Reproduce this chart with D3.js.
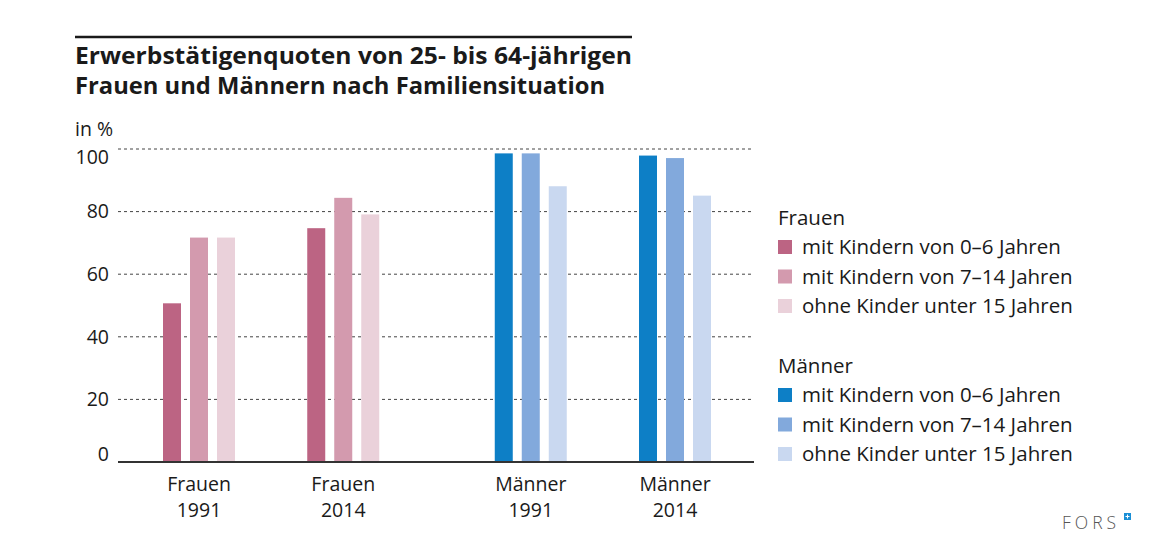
<!DOCTYPE html>
<html><head><meta charset="utf-8">
<script src="https://cdn.jsdelivr.net/npm/d3@7"></script>
<style>
body{margin:0;background:#fff;}
svg{font-family:"Open Sans","Noto Sans",sans-serif;}
</style></head>
<body><svg id="c" width="1150" height="553"></svg>
<script>
const groups = ["Frauen 1991","Frauen 2014","Männer 1991","Männer 2014"];
const groupGender = ["Frauen","Frauen","Männer","Männer"];
const groupYear = ["1991","2014","1991","2014"];
const seriesNames = ["mit Kindern von 0–6 Jahren","mit Kindern von 7–14 Jahren","ohne Kinder unter 15 Jahren"];
const values = [
  [50.7, 71.7, 71.7],
  [74.7, 84.4, 79.1],
  [98.6, 98.6, 88.1],
  [97.9, 97.1, 85.1]
];
const yTicks = [0,20,40,60,80,100];
const colorsFrauen = ["#bc6483","#d39aae","#ead1da"];
const colorsMaenner = ["#0d7fc6","#82a9dc","#c9d8f0"];
const titleLines = ["Erwerbstätigenquoten von 25- bis 64-jährigen","Frauen und Männern nach Familiensituation"];
const unitLabel = "in %";

const svg = d3.select("#c");
const plotL = 118, plotR = 754, plotT = 149, plotB = 462;
const y = d3.scaleLinear().domain([0,100]).range([plotB, plotT]);

const gx = d3.scaleLinear().domain([0,3.3]).range([199, 675]);
const gpos = groups.map((g,i)=> i + (groupGender[i]==="Männer" ? 0.3 : 0));
const inner = d3.scaleBand().domain(d3.range(seriesNames.length)).range([-36,36]).paddingInner(1/3);

// title
svg.append("line").attr("x1",75).attr("x2",632).attr("y1",37).attr("y2",37)
  .attr("stroke","#1a1a1a").attr("stroke-width",2.5);
const titleWidths = [557, 530];
svg.selectAll("text.title").data(titleLines).join("text").attr("class","title")
  .attr("x",75).attr("y",(d,i)=>64+i*29.5).attr("font-size",22.5).attr("font-weight","bold")
  .attr("textLength",(d,i)=>titleWidths[i]).attr("lengthAdjust","spacingAndGlyphs")
  .attr("fill","#1a1a1a").text(d=>d);
svg.append("text").attr("x",75).attr("y",136).attr("font-size",19.5).attr("fill","#1a1a1a").text(unitLabel);

// grid
svg.append("g").selectAll("line").data(yTicks.filter(d=>d>0)).join("line")
  .attr("x1",plotL).attr("x2",plotR).attr("y1",d=>y(d)).attr("y2",d=>y(d))
  .attr("stroke","#444").attr("stroke-width",1).attr("stroke-dasharray","3,3");

// tick labels
svg.append("g").selectAll("text").data(yTicks).join("text")
  .attr("x",109).attr("y",d=>Math.max(plotT+8, Math.min(plotB-8, y(d))))
  .attr("dy","0.35em").attr("text-anchor","end").attr("font-size",19.5).attr("fill","#1a1a1a")
  .text(d=>d);

// bars
groups.forEach((g,i)=>{
  const cols = groupGender[i]==="Frauen" ? colorsFrauen : colorsMaenner;
  svg.append("g").selectAll("rect").data(values[i]).join("rect")
    .attr("x",(d,j)=>gx(gpos[i]) + inner(j))
    .attr("width",inner.bandwidth())
    .attr("y",d=>y(d)).attr("height",d=>plotB-y(d))
    .attr("fill",(d,j)=>cols[j]);
  const t = svg.append("text").attr("x",gx(gpos[i])).attr("text-anchor","middle")
    .attr("font-size",19.5).attr("fill","#1a1a1a");
  t.append("tspan").attr("x",gx(gpos[i])).attr("y",491).text(groupGender[i]);
  t.append("tspan").attr("x",gx(gpos[i])).attr("y",517).text(groupYear[i]);
});

// baseline
svg.append("line").attr("x1",plotL).attr("x2",plotR).attr("y1",plotB).attr("y2",plotB)
  .attr("stroke","#333").attr("stroke-width",2);

// legend
const legendBlocks = [["Frauen",colorsFrauen,218],["Männer",colorsMaenner,366]];
legendBlocks.forEach(([name,cols,y0])=>{
  const g = svg.append("g");
  g.append("text").attr("x",778).attr("y",y0).attr("dy","0.35em").attr("font-size",20.5).attr("fill","#1a1a1a").text(name);
  seriesNames.forEach((s,j)=>{
    const cy = y0 + 29 + j*29.5;
    g.append("rect").attr("x",778).attr("y",cy-7).attr("width",14).attr("height",14).attr("fill",cols[j]);
    g.append("text").attr("x",802).attr("y",cy).attr("dy","0.35em").attr("font-size",20.5)
      .attr("fill","#1a1a1a").text(s);
  });
});

// FORS logo
svg.append("text").attr("x",1062).attr("y",529).attr("font-size",17.5).attr("letter-spacing",4)
  .attr("fill","#555").attr("font-weight",300).text("FORS");
svg.append("rect").attr("x",1124).attr("y",513).attr("width",7).attr("height",7).attr("fill","#1a8fd6");
svg.append("path").attr("d","M1127.5,514.5v4M1125.5,516.5h4").attr("stroke","#fff").attr("stroke-width",1);
</script></body></html>
